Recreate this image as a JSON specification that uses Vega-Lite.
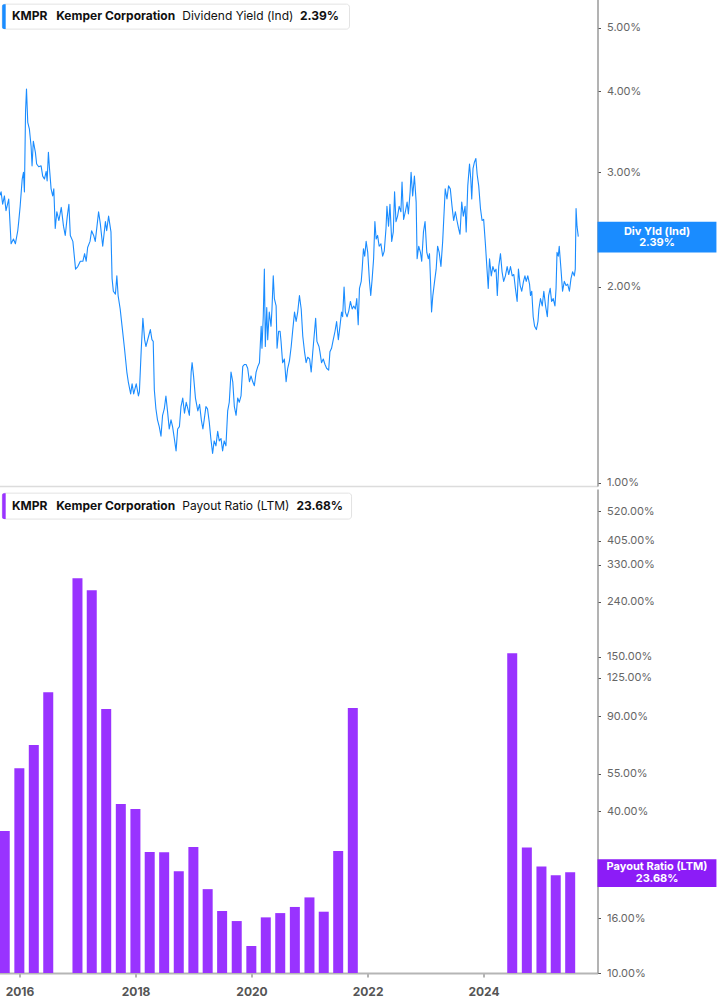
{
  "$schema": "https://vega.github.io/schema/vega-lite/v6.json",
  "padding": {"left": -1.5, "top": -1, "right": 0, "bottom": 0},
  "spacing": 1,
  "background": "white",
  "config": {
    "view": {"stroke": null},
    "font": "Inter",
    "axis": {"grid": false}
  },
  "datasets": {
    "yield": [
      {"date": "2015-08-28", "yield": 2.76}, {"date": "2015-09-07", "yield": 2.80}, {"date": "2015-09-17", "yield": 2.68},
      {"date": "2015-09-28", "yield": 2.76}, {"date": "2015-10-08", "yield": 2.62}, {"date": "2015-10-25", "yield": 2.73},
      {"date": "2015-11-09", "yield": 2.33}, {"date": "2015-11-24", "yield": 2.37}, {"date": "2015-12-06", "yield": 2.33},
      {"date": "2015-12-21", "yield": 2.44}, {"date": "2015-12-27", "yield": 2.52}, {"date": "2016-01-05", "yield": 2.66},
      {"date": "2016-01-18", "yield": 2.93}, {"date": "2016-01-26", "yield": 3.00}, {"date": "2016-02-01", "yield": 2.80},
      {"date": "2016-02-08", "yield": 3.72}, {"date": "2016-02-14", "yield": 4.03}, {"date": "2016-02-22", "yield": 3.58},
      {"date": "2016-03-03", "yield": 3.50}, {"date": "2016-03-14", "yield": 3.29}, {"date": "2016-03-20", "yield": 3.07},
      {"date": "2016-03-28", "yield": 3.35}, {"date": "2016-04-10", "yield": 3.22}, {"date": "2016-04-18", "yield": 3.09},
      {"date": "2016-05-01", "yield": 3.06}, {"date": "2016-05-16", "yield": 3.07}, {"date": "2016-05-26", "yield": 2.96},
      {"date": "2016-06-06", "yield": 2.93}, {"date": "2016-06-17", "yield": 3.01}, {"date": "2016-06-23", "yield": 2.91},
      {"date": "2016-07-01", "yield": 3.22}, {"date": "2016-07-07", "yield": 3.06}, {"date": "2016-07-18", "yield": 2.83},
      {"date": "2016-07-28", "yield": 2.76}, {"date": "2016-08-04", "yield": 2.83}, {"date": "2016-08-13", "yield": 2.46},
      {"date": "2016-08-23", "yield": 2.61}, {"date": "2016-09-05", "yield": 2.53}, {"date": "2016-09-20", "yield": 2.65},
      {"date": "2016-10-04", "yield": 2.48}, {"date": "2016-10-15", "yield": 2.40}, {"date": "2016-10-28", "yield": 2.57},
      {"date": "2016-11-07", "yield": 2.68}, {"date": "2016-11-16", "yield": 2.40}, {"date": "2016-12-02", "yield": 2.35},
      {"date": "2016-12-19", "yield": 2.13}, {"date": "2017-01-02", "yield": 2.15}, {"date": "2017-01-18", "yield": 2.19},
      {"date": "2017-02-03", "yield": 2.19}, {"date": "2017-02-14", "yield": 2.25}, {"date": "2017-02-24", "yield": 2.19},
      {"date": "2017-03-05", "yield": 2.30}, {"date": "2017-03-20", "yield": 2.35}, {"date": "2017-03-30", "yield": 2.44},
      {"date": "2017-04-12", "yield": 2.40}, {"date": "2017-04-22", "yield": 2.35}, {"date": "2017-05-03", "yield": 2.48},
      {"date": "2017-05-13", "yield": 2.61}, {"date": "2017-05-24", "yield": 2.50}, {"date": "2017-06-08", "yield": 2.31},
      {"date": "2017-06-25", "yield": 2.52}, {"date": "2017-07-03", "yield": 2.44}, {"date": "2017-07-15", "yield": 2.57},
      {"date": "2017-07-30", "yield": 2.43}, {"date": "2017-08-06", "yield": 2.06}, {"date": "2017-08-14", "yield": 1.97},
      {"date": "2017-08-27", "yield": 1.95}, {"date": "2017-09-05", "yield": 2.08}, {"date": "2017-09-13", "yield": 1.94},
      {"date": "2017-09-26", "yield": 1.85}, {"date": "2017-10-08", "yield": 1.74}, {"date": "2017-10-23", "yield": 1.61},
      {"date": "2017-11-07", "yield": 1.48}, {"date": "2017-11-16", "yield": 1.43}, {"date": "2017-12-01", "yield": 1.37},
      {"date": "2017-12-10", "yield": 1.42}, {"date": "2017-12-20", "yield": 1.37}, {"date": "2018-01-05", "yield": 1.42},
      {"date": "2018-01-19", "yield": 1.36}, {"date": "2018-01-25", "yield": 1.38}, {"date": "2018-02-06", "yield": 1.61},
      {"date": "2018-02-16", "yield": 1.79}, {"date": "2018-02-27", "yield": 1.66}, {"date": "2018-03-07", "yield": 1.62},
      {"date": "2018-03-24", "yield": 1.68}, {"date": "2018-04-04", "yield": 1.72}, {"date": "2018-04-14", "yield": 1.66},
      {"date": "2018-04-22", "yield": 1.65}, {"date": "2018-04-29", "yield": 1.39}, {"date": "2018-05-09", "yield": 1.30},
      {"date": "2018-05-19", "yield": 1.25}, {"date": "2018-05-30", "yield": 1.22}, {"date": "2018-06-10", "yield": 1.18},
      {"date": "2018-06-20", "yield": 1.27}, {"date": "2018-07-01", "yield": 1.30}, {"date": "2018-07-11", "yield": 1.36},
      {"date": "2018-07-21", "yield": 1.29}, {"date": "2018-08-01", "yield": 1.21}, {"date": "2018-08-12", "yield": 1.25},
      {"date": "2018-08-22", "yield": 1.22}, {"date": "2018-09-02", "yield": 1.17}, {"date": "2018-09-13", "yield": 1.12},
      {"date": "2018-09-23", "yield": 1.21}, {"date": "2018-10-04", "yield": 1.22}, {"date": "2018-10-14", "yield": 1.31},
      {"date": "2018-10-25", "yield": 1.35}, {"date": "2018-11-05", "yield": 1.28}, {"date": "2018-11-16", "yield": 1.33},
      {"date": "2018-11-26", "yield": 1.30}, {"date": "2018-12-06", "yield": 1.27}, {"date": "2018-12-17", "yield": 1.48},
      {"date": "2018-12-23", "yield": 1.53}, {"date": "2019-01-01", "yield": 1.46}, {"date": "2019-01-13", "yield": 1.35},
      {"date": "2019-01-28", "yield": 1.29}, {"date": "2019-02-08", "yield": 1.32}, {"date": "2019-02-19", "yield": 1.25},
      {"date": "2019-03-01", "yield": 1.21}, {"date": "2019-03-09", "yield": 1.25}, {"date": "2019-03-20", "yield": 1.31},
      {"date": "2019-03-30", "yield": 1.30}, {"date": "2019-04-10", "yield": 1.24}, {"date": "2019-04-20", "yield": 1.17},
      {"date": "2019-05-01", "yield": 1.11}, {"date": "2019-05-11", "yield": 1.16}, {"date": "2019-05-22", "yield": 1.14},
      {"date": "2019-06-02", "yield": 1.20}, {"date": "2019-06-12", "yield": 1.16}, {"date": "2019-06-23", "yield": 1.17},
      {"date": "2019-07-03", "yield": 1.12}, {"date": "2019-07-13", "yield": 1.16}, {"date": "2019-07-24", "yield": 1.14},
      {"date": "2019-08-04", "yield": 1.29}, {"date": "2019-08-14", "yield": 1.33}, {"date": "2019-08-25", "yield": 1.48},
      {"date": "2019-09-05", "yield": 1.43}, {"date": "2019-09-15", "yield": 1.31}, {"date": "2019-09-26", "yield": 1.27},
      {"date": "2019-10-06", "yield": 1.35}, {"date": "2019-10-16", "yield": 1.33}, {"date": "2019-10-27", "yield": 1.36},
      {"date": "2019-11-07", "yield": 1.51}, {"date": "2019-11-17", "yield": 1.52}, {"date": "2019-11-28", "yield": 1.52},
      {"date": "2019-12-08", "yield": 1.50}, {"date": "2019-12-19", "yield": 1.43}, {"date": "2019-12-29", "yield": 1.46},
      {"date": "2020-01-09", "yield": 1.43}, {"date": "2020-01-19", "yield": 1.41}, {"date": "2020-01-30", "yield": 1.48},
      {"date": "2020-02-10", "yield": 1.51}, {"date": "2020-02-20", "yield": 1.53}, {"date": "2020-03-02", "yield": 1.74},
      {"date": "2020-03-07", "yield": 1.61}, {"date": "2020-03-15", "yield": 1.80}, {"date": "2020-03-22", "yield": 2.13},
      {"date": "2020-03-28", "yield": 1.62}, {"date": "2020-04-06", "yield": 1.86}, {"date": "2020-04-12", "yield": 1.66},
      {"date": "2020-04-22", "yield": 1.83}, {"date": "2020-05-03", "yield": 1.74}, {"date": "2020-05-09", "yield": 1.85},
      {"date": "2020-05-17", "yield": 2.08}, {"date": "2020-05-24", "yield": 1.92}, {"date": "2020-06-04", "yield": 1.87},
      {"date": "2020-06-10", "yield": 1.61}, {"date": "2020-06-20", "yield": 1.71}, {"date": "2020-06-29", "yield": 1.71},
      {"date": "2020-07-05", "yield": 1.65}, {"date": "2020-07-15", "yield": 1.53}, {"date": "2020-07-26", "yield": 1.55},
      {"date": "2020-08-06", "yield": 1.43}, {"date": "2020-08-16", "yield": 1.50}, {"date": "2020-08-27", "yield": 1.54},
      {"date": "2020-09-07", "yield": 1.62}, {"date": "2020-09-17", "yield": 1.72}, {"date": "2020-09-28", "yield": 1.83},
      {"date": "2020-10-08", "yield": 1.77}, {"date": "2020-10-18", "yield": 1.83}, {"date": "2020-10-29", "yield": 1.94},
      {"date": "2020-11-09", "yield": 1.85}, {"date": "2020-11-19", "yield": 1.68}, {"date": "2020-11-30", "yield": 1.59},
      {"date": "2020-12-10", "yield": 1.53}, {"date": "2020-12-20", "yield": 1.56}, {"date": "2021-01-01", "yield": 1.55},
      {"date": "2021-01-11", "yield": 1.48}, {"date": "2021-01-21", "yield": 1.59}, {"date": "2021-02-01", "yield": 1.71},
      {"date": "2021-02-08", "yield": 1.79}, {"date": "2021-02-16", "yield": 1.65}, {"date": "2021-03-01", "yield": 1.62},
      {"date": "2021-03-07", "yield": 1.59}, {"date": "2021-03-17", "yield": 1.53}, {"date": "2021-03-28", "yield": 1.55},
      {"date": "2021-04-08", "yield": 1.52}, {"date": "2021-04-18", "yield": 1.50}, {"date": "2021-05-01", "yield": 1.49},
      {"date": "2021-05-09", "yield": 1.59}, {"date": "2021-05-19", "yield": 1.61}, {"date": "2021-05-30", "yield": 1.66},
      {"date": "2021-06-10", "yield": 1.71}, {"date": "2021-06-20", "yield": 1.77}, {"date": "2021-07-01", "yield": 1.66},
      {"date": "2021-07-11", "yield": 1.74}, {"date": "2021-07-21", "yield": 1.83}, {"date": "2021-07-28", "yield": 1.80},
      {"date": "2021-08-06", "yield": 2.00}, {"date": "2021-08-14", "yield": 1.83}, {"date": "2021-08-25", "yield": 1.80},
      {"date": "2021-09-05", "yield": 1.84}, {"date": "2021-09-15", "yield": 1.90}, {"date": "2021-09-26", "yield": 1.85},
      {"date": "2021-10-06", "yield": 1.87}, {"date": "2021-10-16", "yield": 1.85}, {"date": "2021-10-25", "yield": 1.92},
      {"date": "2021-11-03", "yield": 1.75}, {"date": "2021-11-11", "yield": 1.99}, {"date": "2021-11-22", "yield": 2.04},
      {"date": "2021-11-28", "yield": 2.13}, {"date": "2021-12-06", "yield": 2.29}, {"date": "2021-12-14", "yield": 2.23},
      {"date": "2021-12-23", "yield": 2.35}, {"date": "2022-01-02", "yield": 2.26}, {"date": "2022-01-13", "yield": 2.04},
      {"date": "2022-01-21", "yield": 1.94}, {"date": "2022-01-30", "yield": 2.06}, {"date": "2022-02-08", "yield": 2.21},
      {"date": "2022-02-16", "yield": 2.52}, {"date": "2022-02-24", "yield": 2.37}, {"date": "2022-03-05", "yield": 2.40},
      {"date": "2022-03-15", "yield": 2.31}, {"date": "2022-03-26", "yield": 2.33}, {"date": "2022-04-06", "yield": 2.23},
      {"date": "2022-04-16", "yield": 2.27}, {"date": "2022-04-27", "yield": 2.46}, {"date": "2022-05-03", "yield": 2.66},
      {"date": "2022-05-13", "yield": 2.48}, {"date": "2022-05-22", "yield": 2.68}, {"date": "2022-06-02", "yield": 2.35},
      {"date": "2022-06-12", "yield": 2.43}, {"date": "2022-06-20", "yield": 2.80}, {"date": "2022-06-29", "yield": 2.52},
      {"date": "2022-07-09", "yield": 2.57}, {"date": "2022-07-19", "yield": 2.66}, {"date": "2022-07-30", "yield": 2.61},
      {"date": "2022-08-06", "yield": 2.90}, {"date": "2022-08-16", "yield": 2.54}, {"date": "2022-08-27", "yield": 2.61},
      {"date": "2022-09-07", "yield": 2.70}, {"date": "2022-09-15", "yield": 2.59}, {"date": "2022-09-26", "yield": 2.80},
      {"date": "2022-10-02", "yield": 3.00}, {"date": "2022-10-12", "yield": 2.76}, {"date": "2022-10-23", "yield": 2.96},
      {"date": "2022-11-03", "yield": 2.70}, {"date": "2022-11-09", "yield": 2.21}, {"date": "2022-11-19", "yield": 2.31},
      {"date": "2022-11-30", "yield": 2.26}, {"date": "2022-12-08", "yield": 2.19}, {"date": "2022-12-19", "yield": 2.43},
      {"date": "2022-12-29", "yield": 2.52}, {"date": "2023-01-09", "yield": 2.26}, {"date": "2023-01-19", "yield": 2.21},
      {"date": "2023-01-26", "yield": 2.25}, {"date": "2023-02-01", "yield": 2.06}, {"date": "2023-02-08", "yield": 1.83},
      {"date": "2023-02-16", "yield": 1.94}, {"date": "2023-02-27", "yield": 2.04}, {"date": "2023-03-09", "yield": 2.13},
      {"date": "2023-03-18", "yield": 2.31}, {"date": "2023-03-28", "yield": 2.26}, {"date": "2023-04-08", "yield": 2.15},
      {"date": "2023-04-19", "yield": 2.35}, {"date": "2023-04-29", "yield": 2.64}, {"date": "2023-05-05", "yield": 2.83},
      {"date": "2023-05-16", "yield": 2.73}, {"date": "2023-05-26", "yield": 2.86}, {"date": "2023-06-06", "yield": 2.83},
      {"date": "2023-06-17", "yield": 2.66}, {"date": "2023-06-27", "yield": 2.53}, {"date": "2023-07-08", "yield": 2.61},
      {"date": "2023-07-18", "yield": 2.53}, {"date": "2023-07-28", "yield": 2.46}, {"date": "2023-08-06", "yield": 2.41},
      {"date": "2023-08-17", "yield": 2.70}, {"date": "2023-08-27", "yield": 2.57}, {"date": "2023-09-07", "yield": 2.66},
      {"date": "2023-09-14", "yield": 2.43}, {"date": "2023-09-24", "yield": 2.86}, {"date": "2023-10-05", "yield": 3.09},
      {"date": "2023-10-13", "yield": 2.93}, {"date": "2023-10-19", "yield": 2.73}, {"date": "2023-10-27", "yield": 3.04},
      {"date": "2023-11-05", "yield": 3.11}, {"date": "2023-11-14", "yield": 3.15}, {"date": "2023-11-22", "yield": 2.98},
      {"date": "2023-12-02", "yield": 2.86}, {"date": "2023-12-13", "yield": 2.64}, {"date": "2023-12-23", "yield": 2.53},
      {"date": "2024-01-02", "yield": 2.54}, {"date": "2024-01-14", "yield": 2.31}, {"date": "2024-01-22", "yield": 2.15},
      {"date": "2024-01-31", "yield": 1.99}, {"date": "2024-02-08", "yield": 2.21}, {"date": "2024-02-19", "yield": 2.08},
      {"date": "2024-02-29", "yield": 2.15}, {"date": "2024-03-11", "yield": 2.11}, {"date": "2024-03-20", "yield": 2.13},
      {"date": "2024-03-28", "yield": 1.94}, {"date": "2024-04-06", "yield": 2.15}, {"date": "2024-04-17", "yield": 2.25},
      {"date": "2024-04-27", "yield": 2.11}, {"date": "2024-05-07", "yield": 2.04}, {"date": "2024-05-18", "yield": 2.08},
      {"date": "2024-05-29", "yield": 2.15}, {"date": "2024-06-08", "yield": 2.09}, {"date": "2024-06-19", "yield": 2.15},
      {"date": "2024-06-30", "yield": 2.08}, {"date": "2024-07-10", "yield": 2.09}, {"date": "2024-07-20", "yield": 1.99},
      {"date": "2024-07-31", "yield": 1.90}, {"date": "2024-08-08", "yield": 2.13}, {"date": "2024-08-19", "yield": 2.01},
      {"date": "2024-08-29", "yield": 1.97}, {"date": "2024-09-09", "yield": 2.04}, {"date": "2024-09-18", "yield": 2.08},
      {"date": "2024-09-26", "yield": 2.04}, {"date": "2024-10-06", "yield": 2.08}, {"date": "2024-10-17", "yield": 2.02},
      {"date": "2024-10-23", "yield": 1.94}, {"date": "2024-10-31", "yield": 1.97}, {"date": "2024-11-09", "yield": 1.80},
      {"date": "2024-11-18", "yield": 1.74}, {"date": "2024-11-29", "yield": 1.72}, {"date": "2024-12-09", "yield": 1.77},
      {"date": "2024-12-15", "yield": 1.85}, {"date": "2024-12-25", "yield": 1.92}, {"date": "2025-01-05", "yield": 1.87},
      {"date": "2025-01-15", "yield": 1.97}, {"date": "2025-01-26", "yield": 1.87}, {"date": "2025-02-06", "yield": 1.80},
      {"date": "2025-02-14", "yield": 1.94}, {"date": "2025-02-24", "yield": 1.99}, {"date": "2025-03-05", "yield": 1.90},
      {"date": "2025-03-15", "yield": 1.92}, {"date": "2025-03-26", "yield": 1.87}, {"date": "2025-04-02", "yield": 1.99},
      {"date": "2025-04-08", "yield": 2.26}, {"date": "2025-04-16", "yield": 2.23}, {"date": "2025-04-22", "yield": 2.31},
      {"date": "2025-05-03", "yield": 2.13}, {"date": "2025-05-13", "yield": 1.97}, {"date": "2025-05-24", "yield": 2.04},
      {"date": "2025-06-04", "yield": 2.01}, {"date": "2025-06-14", "yield": 2.02}, {"date": "2025-06-25", "yield": 1.97},
      {"date": "2025-07-05", "yield": 2.06}, {"date": "2025-07-15", "yield": 2.11}, {"date": "2025-07-26", "yield": 2.08},
      {"date": "2025-08-01", "yield": 2.13}, {"date": "2025-08-06", "yield": 2.64}, {"date": "2025-08-12", "yield": 2.48},
      {"date": "2025-08-20", "yield": 2.39}
    ],
    "payout": [
      {"date": "2015-09-30", "ratio": 33.7}, {"date": "2015-12-31", "ratio": 57.7}, {"date": "2016-03-31", "ratio": 70.4},
      {"date": "2016-06-30", "ratio": 110.5}, {"date": "2016-12-31", "ratio": 293.3}, {"date": "2017-03-31", "ratio": 264.6},
      {"date": "2017-06-30", "ratio": 95.8}, {"date": "2017-09-30", "ratio": 42.5}, {"date": "2017-12-31", "ratio": 40.7},
      {"date": "2018-03-31", "ratio": 28.2}, {"date": "2018-06-30", "ratio": 28.1}, {"date": "2018-09-30", "ratio": 23.9},
      {"date": "2018-12-31", "ratio": 29.4}, {"date": "2019-03-31", "ratio": 20.5}, {"date": "2019-06-30", "ratio": 17.0},
      {"date": "2019-09-30", "ratio": 15.6}, {"date": "2019-12-31", "ratio": 12.6}, {"date": "2020-03-31", "ratio": 16.1},
      {"date": "2020-06-30", "ratio": 16.7}, {"date": "2020-09-30", "ratio": 17.6}, {"date": "2020-12-31", "ratio": 19.1},
      {"date": "2021-03-31", "ratio": 16.9}, {"date": "2021-06-30", "ratio": 28.4}, {"date": "2021-09-30", "ratio": 96.6},
      {"date": "2024-06-30", "ratio": 154.3}, {"date": "2024-09-30", "ratio": 29.3}, {"date": "2024-12-31", "ratio": 24.9},
      {"date": "2025-03-31", "ratio": 23.1}, {"date": "2025-06-30", "ratio": 23.68}
    ]
  },
  "vconcat": [
    {
      "width": 598,
      "height": 487,
      "layer": [
        {
          "data": {"name": "yield"},
          "mark": {"type": "line", "color": "#1a8cff", "strokeWidth": 1.1, "strokeJoin": "round"},
          "encoding": {
            "x": {
              "field": "date",
              "type": "temporal",
              "scale": {"domain": [{"year": 2015, "month": 8, "date": 28}, {"year": 2025, "month": 12, "date": 19}], "padding": 0, "nice": false},
              "axis": {"title": null, "labels": false, "ticks": false, "domainColor": "#dcdcdc", "domainWidth": 1.5}
            },
            "y": {
              "field": "yield",
              "type": "quantitative",
              "scale": {"type": "log", "domain": [0.989, 5.54], "nice": false},
              "axis": {
                "orient": "right",
                "title": null,
                "values": [1, 2, 3, 4, 5],
                "labelExpr": "format(datum.value, '.2f') + '%'",
                "domainColor": "#9a9a9a",
                "domainWidth": 1.5,
                "tickColor": "#555555",
                "tickSize": 3,
                "labelColor": "#666666",
                "labelFontSize": 11,
                "labelPadding": 6
              }
            }
          }
        },
        {
          "data": {"values": [{}]},
          "mark": {"type": "rect", "fill": "white", "stroke": "#e3e3e3", "strokeWidth": 1, "cornerRadius": 3},
          "encoding": {
            "x": {"datum": {"year": 2015, "month": 9, "date": 14}, "type": "temporal"},
            "x2": {"datum": {"year": 2021, "month": 9, "date": 9}},
            "y": {"datum": 5.44},
            "y2": {"datum": 4.98}
          }
        },
        {
          "data": {"values": [{}]},
          "mark": {"type": "rect", "fill": "#1a8cff", "cornerRadiusTopLeft": 3, "cornerRadiusBottomLeft": 3},
          "encoding": {
            "x": {"datum": {"year": 2015, "month": 9, "date": 14}, "type": "temporal"},
            "x2": {"datum": {"year": 2015, "month": 10, "date": 6}},
            "y": {"datum": 5.44},
            "y2": {"datum": 4.98}
          }
        },
        {
          "data": {"values": [{}]},
          "mark": {"type": "text", "align": "left", "baseline": "middle", "fontSize": 12, "fontWeight": "bold", "color": "#111111"},
          "encoding": {
            "x": {"datum": {"year": 2015, "month": 11, "date": 14}, "type": "temporal"},
            "y": {"datum": 5.22},
            "text": {"value": "KMPR"}
          }
        },
        {
          "data": {"values": [{}]},
          "mark": {"type": "text", "align": "left", "baseline": "middle", "fontSize": 12, "fontWeight": "bold", "color": "#111111"},
          "encoding": {
            "x": {"datum": {"year": 2016, "month": 8, "date": 19}, "type": "temporal"},
            "y": {"datum": 5.22},
            "text": {"value": "Kemper Corporation"}
          }
        },
        {
          "data": {"values": [{}]},
          "mark": {"type": "text", "align": "left", "baseline": "middle", "fontSize": 12, "fontWeight": "normal", "color": "#111111"},
          "encoding": {
            "x": {"datum": {"year": 2018, "month": 10, "date": 22}, "type": "temporal"},
            "y": {"datum": 5.22},
            "text": {"value": "Dividend Yield (Ind)"}
          }
        },
        {
          "data": {"values": [{}]},
          "mark": {"type": "text", "align": "left", "baseline": "middle", "fontSize": 12, "fontWeight": "bold", "color": "#111111"},
          "encoding": {
            "x": {"datum": {"year": 2020, "month": 11, "date": 1}, "type": "temporal"},
            "y": {"datum": 5.22},
            "text": {"value": "2.39%"}
          }
        },
        {
          "data": {"values": [{}]},
          "mark": {"type": "rect", "fill": "#1a8cff"},
          "encoding": {
            "x": {"datum": {"year": 2025, "month": 12, "date": 19}, "type": "temporal"},
            "x2": {"datum": {"year": 2028, "month": 1, "date": 7}},
            "y": {"datum": 2.52},
            "y2": {"datum": 2.26}
          }
        },
        {
          "data": {"values": [{}]},
          "mark": {"type": "text", "align": "center", "baseline": "middle", "fontSize": 11, "fontWeight": "bold", "color": "white", "lineHeight": 11.5, "dy": -5},
          "encoding": {
            "x": {"datum": {"year": 2026, "month": 12, "date": 29}, "type": "temporal"},
            "y": {"datum": 2.39},
            "text": {"value": ["Div Yld (Ind)", "2.39%"]}
          }
        }
      ]
    },
    {
      "width": 598,
      "height": 484,
      "layer": [
        {
          "data": {"name": "payout"},
          "mark": {"type": "bar", "color": "#9933ff", "width": 10},
          "encoding": {
            "x": {
              "field": "date",
              "type": "temporal",
              "scale": {"domain": [{"year": 2015, "month": 8, "date": 28}, {"year": 2025, "month": 12, "date": 19}], "padding": 0, "nice": false},
              "axis": {
                "title": null,
                "format": "%Y",
                "values": [
                  {"year": 2016, "month": 1, "date": 1},
                  {"year": 2018, "month": 1, "date": 1},
                  {"year": 2020, "month": 1, "date": 1},
                  {"year": 2022, "month": 1, "date": 1},
                  {"year": 2024, "month": 1, "date": 1}
                ],
                "domainColor": "#b5b5b5",
                "domainWidth": 2,
                "tickColor": "#666666",
                "tickSize": 4,
                "labelColor": "#555555",
                "labelFontSize": 12,
                "labelFontWeight": "bold",
                "labelPadding": 9
              }
            },
            "y": {
              "field": "ratio",
              "type": "quantitative",
              "scale": {"type": "log", "domain": [10, 630], "nice": false},
              "axis": {
                "orient": "right",
                "title": null,
                "values": [10, 16, 25, 40, 55, 90, 125, 150, 240, 330, 405, 520],
                "labelExpr": "format(datum.value, '.2f') + '%'",
                "domainColor": "#9a9a9a",
                "domainWidth": 1.5,
                "tickColor": "#555555",
                "tickSize": 3,
                "labelColor": "#666666",
                "labelFontSize": 11,
                "labelPadding": 6
              }
            },
            "y2": {"datum": 10}
          }
        },
        {
          "data": {"values": [{}]},
          "mark": {"type": "rect", "fill": "white", "stroke": "#e3e3e3", "strokeWidth": 1, "cornerRadius": 3},
          "encoding": {
            "x": {"datum": {"year": 2015, "month": 9, "date": 14}, "type": "temporal"},
            "x2": {"datum": {"year": 2021, "month": 9, "date": 22}},
            "y": {"datum": 608},
            "y2": {"datum": 487}
          }
        },
        {
          "data": {"values": [{}]},
          "mark": {"type": "rect", "fill": "#9933ff", "cornerRadiusTopLeft": 3, "cornerRadiusBottomLeft": 3},
          "encoding": {
            "x": {"datum": {"year": 2015, "month": 9, "date": 14}, "type": "temporal"},
            "x2": {"datum": {"year": 2015, "month": 10, "date": 6}},
            "y": {"datum": 608},
            "y2": {"datum": 487}
          }
        },
        {
          "data": {"values": [{}]},
          "mark": {"type": "text", "align": "left", "baseline": "middle", "fontSize": 12, "fontWeight": "bold", "color": "#111111"},
          "encoding": {
            "x": {"datum": {"year": 2015, "month": 11, "date": 14}, "type": "temporal"},
            "y": {"datum": 545},
            "text": {"value": "KMPR"}
          }
        },
        {
          "data": {"values": [{}]},
          "mark": {"type": "text", "align": "left", "baseline": "middle", "fontSize": 12, "fontWeight": "bold", "color": "#111111"},
          "encoding": {
            "x": {"datum": {"year": 2016, "month": 8, "date": 19}, "type": "temporal"},
            "y": {"datum": 545},
            "text": {"value": "Kemper Corporation"}
          }
        },
        {
          "data": {"values": [{}]},
          "mark": {"type": "text", "align": "left", "baseline": "middle", "fontSize": 12, "fontWeight": "normal", "color": "#111111"},
          "encoding": {
            "x": {"datum": {"year": 2018, "month": 10, "date": 22}, "type": "temporal"},
            "y": {"datum": 545},
            "text": {"value": "Payout Ratio (LTM)"}
          }
        },
        {
          "data": {"values": [{}]},
          "mark": {"type": "text", "align": "left", "baseline": "middle", "fontSize": 12, "fontWeight": "bold", "color": "#111111"},
          "encoding": {
            "x": {"datum": {"year": 2020, "month": 10, "date": 10}, "type": "temporal"},
            "y": {"datum": 545},
            "text": {"value": "23.68%"}
          }
        },
        {
          "data": {"values": [{}]},
          "mark": {"type": "rect", "fill": "#8c1cf7"},
          "encoding": {
            "x": {"datum": {"year": 2025, "month": 12, "date": 19}, "type": "temporal"},
            "x2": {"datum": {"year": 2028, "month": 1, "date": 7}},
            "y": {"datum": 26.5},
            "y2": {"datum": 20.9}
          }
        },
        {
          "data": {"values": [{}]},
          "mark": {"type": "text", "align": "center", "baseline": "middle", "fontSize": 11, "fontWeight": "bold", "color": "white", "lineHeight": 11.5, "dy": -5},
          "encoding": {
            "x": {"datum": {"year": 2026, "month": 12, "date": 29}, "type": "temporal"},
            "y": {"datum": 23.68},
            "text": {"value": ["Payout Ratio (LTM)", "23.68%"]}
          }
        }
      ]
    }
  ]
}
